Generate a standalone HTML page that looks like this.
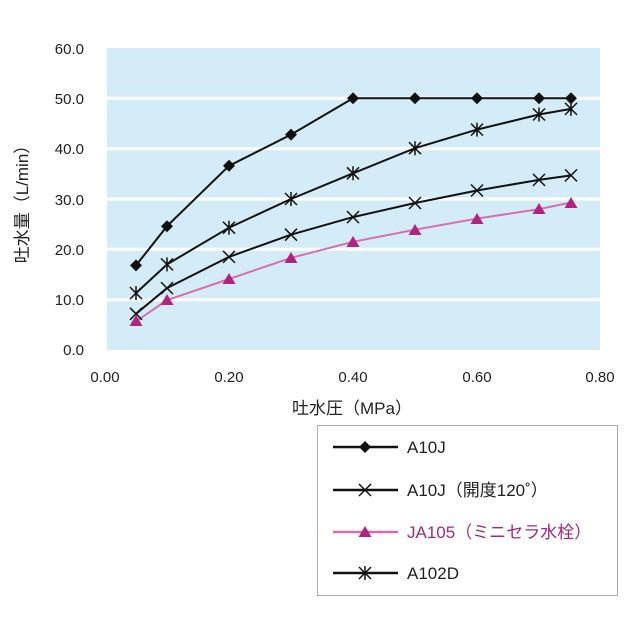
<!DOCTYPE html><html><head><style>body{margin:0;background:#fff}svg{display:block}text{font-family:"Liberation Sans","Noto Sans CJK JP",sans-serif}</style></head><body>
<svg width="640" height="640" viewBox="0 0 640 640">
<rect x="107" y="48" width="493" height="302" fill="#d4ecf8"/>
<g stroke="#fff" stroke-width="3">
<line x1="107" x2="600" y1="98.3" y2="98.3"/><line x1="107" x2="600" y1="148.7" y2="148.7"/><line x1="107" x2="600" y1="199" y2="199"/><line x1="107" x2="600" y1="249.3" y2="249.3"/><line x1="107" x2="600" y1="299.7" y2="299.7"/></g>
<g font-size="15" fill="#222" text-anchor="end">
<text x="84" y="54">60.0</text><text x="84" y="104">50.0</text><text x="84" y="154">40.0</text><text x="84" y="205">30.0</text><text x="84" y="255">20.0</text><text x="84" y="305">10.0</text><text x="84" y="355">0.0</text></g>
<g font-size="15" fill="#222" text-anchor="middle">
<text x="105" y="382">0.00</text><text x="229" y="382">0.20</text><text x="353" y="382">0.40</text><text x="477" y="382">0.60</text><text x="600" y="382">0.80</text>
<text x="352" y="414" font-size="17">吐水圧（MPa）</text></g>
<text transform="translate(28,200) rotate(-90)" font-size="17" text-anchor="middle" fill="#222">吐水量（L/min）</text>
<g fill="none" stroke-width="2">
<polyline stroke="#111" points="136,265.4 167,226.2 229,165.8 291,134.6 353,98.3 415,98.3 477,98.3 539,98.3 571,98.3"/>
<polyline stroke="#111" points="136,293.1 167,264.4 229,227.7 291,199 353,173.3 415,148.2 477,129.6 539,114.5 571,108.9"/>
<polyline stroke="#111" points="136,313.8 167,288.1 229,256.9 291,234.7 353,217.1 415,203 477,190.5 539,179.9 571,175.4"/>
<polyline stroke="#d66fb0" points="136,321.3 167,300.2 229,279 291,257.9 353,241.8 415,229.7 477,218.6 539,209.1 571,202.5"/>
</g>
<g fill="#111">
<path d="M136,259.4l6,6-6,6-6-6z M167,220.2l6,6-6,6-6-6z M229,159.8l6,6-6,6-6-6z M291,128.6l6,6-6,6-6-6z M353,92.3l6,6-6,6-6-6z M415,92.3l6,6-6,6-6-6z M477,92.3l6,6-6,6-6-6z M539,92.3l6,6-6,6-6-6z M571,92.3l6,6-6,6-6-6z"/></g>
<g stroke="#111" stroke-width="1.5" fill="none">
<path d="M130,287.1l12,12m0-12l-12,12M136,286.1v14 M161,258.4l12,12m0-12l-12,12M167,257.4v14 M223,221.7l12,12m0-12l-12,12M229,220.7v14 M285,193l12,12m0-12l-12,12M291,192v14 M347,167.3l12,12m0-12l-12,12M353,166.3v14 M409,142.2l12,12m0-12l-12,12M415,141.2v14 M471,123.6l12,12m0-12l-12,12M477,122.6v14 M533,108.5l12,12m0-12l-12,12M539,107.5v14 M565,102.9l12,12m0-12l-12,12M571,101.9v14"/>
<path d="M130,307.8l12,12m0-12l-12,12 M161,282.1l12,12m0-12l-12,12 M223,250.9l12,12m0-12l-12,12 M285,228.7l12,12m0-12l-12,12 M347,211.1l12,12m0-12l-12,12 M409,197l12,12m0-12l-12,12 M471,184.5l12,12m0-12l-12,12 M533,173.9l12,12m0-12l-12,12 M565,169.4l12,12m0-12l-12,12"/></g>
<g fill="#b0237f">
<path d="M136,315l6.5,11h-13z M167,294l6.5,11h-13z M229,273l6.5,11h-13z M291,252l6.5,11h-13z M353,236l6.5,11h-13z M415,224l6.5,11h-13z M477,213l6.5,11h-13z M539,203l6.5,11h-13z M571,197l6.5,11h-13z"/></g>
<rect x="317.5" y="425.5" width="300" height="170" fill="#fff" stroke="#aaa"/>
<g stroke-width="2.5"><line x1="333" x2="398" y1="447" y2="447" stroke="#111"/><line x1="333" x2="398" y1="490" y2="490" stroke="#111"/><line x1="333" x2="398" y1="532" y2="532" stroke="#d66fb0"/><line x1="333" x2="398" y1="573" y2="573" stroke="#111"/></g>
<path d="M365,441l6,6-6,6-6-6z" fill="#111"/>
<path d="M359,484l12,12m0-12l-12,12" stroke="#111" stroke-width="1.5"/>
<path d="M365,526l6.5,11h-13z" fill="#b0237f"/>
<path d="M359,567l12,12m0-12l-12,12M365,566v14" stroke="#111" stroke-width="1.5"/>
<g font-size="17" fill="#222"><text x="407" y="453">A10J</text><text x="407" y="496">A10J（開度120˚）</text><text x="407" y="538" fill="#a0287c">JA105（ミニセラ水栓）</text><text x="407" y="579">A102D</text></g>
</svg></body></html>
